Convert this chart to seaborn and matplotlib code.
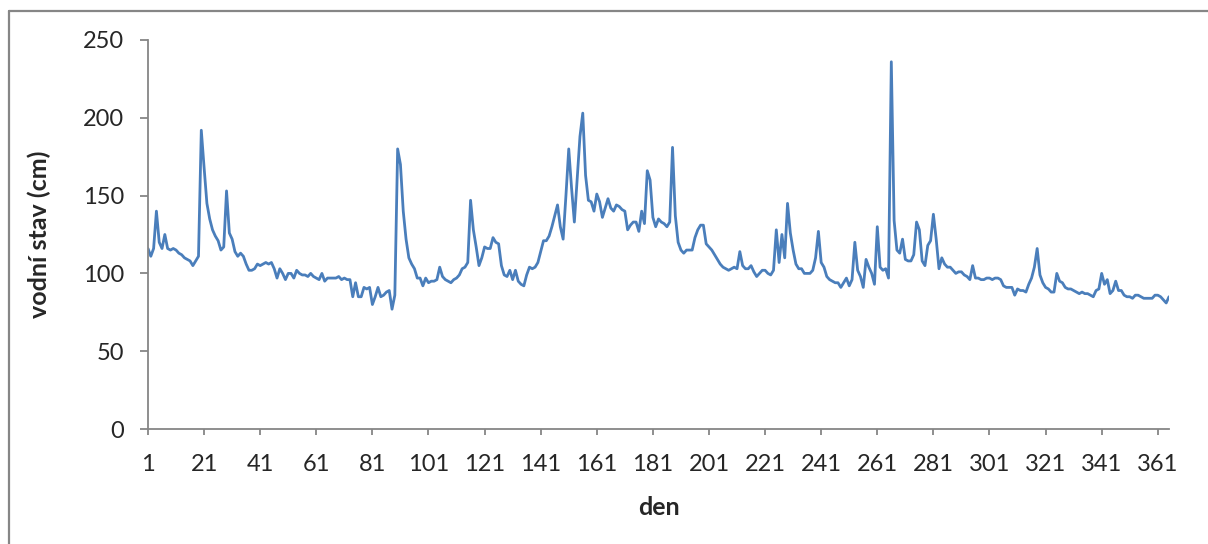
import pandas as pd
import matplotlib
matplotlib.use("Agg")
import matplotlib.pyplot as plt
from matplotlib.lines import Line2D
import seaborn as sns

# denní vodní stav (cm), dny 1..365
stav = [
    116, 111, 116, 140, 120, 116, 125, 116, 115, 116,
    115, 113, 112, 110, 109, 108, 105, 108, 111, 192,
    168, 145, 135, 128, 124, 121, 115, 117, 153, 126,
    122, 114, 111, 113, 111, 106, 102, 102, 103, 106,
    105, 106, 107, 106, 107, 103, 97, 103, 100, 96,
    100, 100, 97, 102, 100, 99, 99, 98, 100, 98,
    97, 96, 100, 95, 97, 97, 97, 97, 98, 96,
    97, 96, 96, 85, 94, 85, 85, 91, 90, 91,
    80, 85, 91, 85, 86, 88, 89, 77, 86, 180,
    170, 140, 122, 110, 106, 103, 97, 97, 92, 97,
    94, 95, 95, 96, 104, 98, 96, 95, 94, 96,
    97, 99, 103, 104, 107, 147, 128, 117, 105, 110,
    117, 116, 116, 123, 120, 119, 105, 99, 98, 102,
    96, 102, 95, 93, 92, 99, 104, 103, 104, 107,
    114, 121, 121, 124, 130, 137, 144, 130, 122, 150,
    180, 155, 133, 160, 188, 203, 163, 147, 146, 140,
    151, 146, 136, 142, 148, 142, 140, 144, 143, 141,
    140, 128, 131, 133, 133, 127, 140, 132, 166, 160,
    136, 130, 135, 133, 132, 130, 133, 181, 137, 120,
    115, 113, 115, 115, 115, 123, 128, 131, 131, 119,
    117, 115, 112, 109, 106, 104, 103, 102, 103, 104,
    103, 114, 105, 103, 103, 105, 101, 98, 100, 102,
    102, 100, 99, 102, 128, 107, 125, 110, 145, 126,
    115, 106, 103, 103, 100, 100, 100, 102, 110, 127,
    107, 104, 98, 96, 95, 94, 94, 91, 94, 97,
    92, 96, 120, 102, 98, 91, 109, 104, 100, 93,
    130, 104, 102, 103, 97, 236, 134, 115, 113, 122,
    109, 108, 108, 112, 133, 128, 108, 105, 118, 121,
    138, 122, 103, 110, 106, 104, 104, 102, 100, 101,
    101, 99, 98, 96, 105, 97, 97, 96, 96, 97,
    97, 96, 97, 97, 96, 92, 91, 91, 91, 86,
    90, 89, 89, 88, 93, 97, 104, 116, 99, 94,
    91, 90, 88, 88, 100, 95, 94, 91, 90, 90,
    89, 88, 87, 88, 87, 87, 86, 85, 89, 90,
    100, 93, 96, 87, 89, 95, 89, 89, 86, 85,
    85, 84, 86, 86, 85, 84, 84, 84, 84, 86,
    86, 85, 83, 81, 85,
]
dny = list(range(1, len(stav) + 1))
x_ticks = list(range(1, 362, 20))
y_ticks = [0, 50, 100, 150, 200, 250]

df = pd.DataFrame({"den": dny, "stav": stav})

sns.set_style("white")
plt.rcParams["font.family"] = ["Lato", "DejaVu Sans"]

seda = "#868686"
fig = plt.figure(figsize=(12.08, 5.44), dpi=100)
ax = fig.add_axes([148 / 1208, 1 - 429 / 544, 1021 / 1208, 389 / 544])

sns.lineplot(data=df, x="den", y="stav", ax=ax, color="#4A7EBB", linewidth=2.0)

ax.set_xlim(1, 365)
ax.set_ylim(0, 250)
ax.set_xticks(x_ticks)
ax.set_yticks(y_ticks)

for s in ["top", "right"]:
    ax.spines[s].set_visible(False)
for s in ["left", "bottom"]:
    ax.spines[s].set_color(seda)
    ax.spines[s].set_linewidth(1.3)

ax.tick_params(axis="y", direction="out", length=6, width=1.3, color=seda,
               pad=11, labelsize=17, left=True)
ax.tick_params(axis="x", direction="out", length=4, width=1.3, color=seda,
               pad=14, labelsize=17, bottom=True)

ax.set_xlabel("den", fontsize=18, fontweight="bold")
ax.set_ylabel("vodní stav (cm)", fontsize=18, fontweight="bold")
ax.xaxis.set_label_coords(0.5, -0.172)
ax.yaxis.set_label_coords(-0.095, 0.5)

# rámeček kolem grafu (jen levá a horní hrana je vidět)
fx = 8.5 / 1208
fy = 1 - 10.5 / 544
fig.add_artist(Line2D([fx, fx], [0, fy], transform=fig.transFigure, color=seda, lw=1.6))
fig.add_artist(Line2D([fx, 1], [fy, fy], transform=fig.transFigure, color=seda, lw=1.6))

fig.savefig("out.png", dpi=100)
